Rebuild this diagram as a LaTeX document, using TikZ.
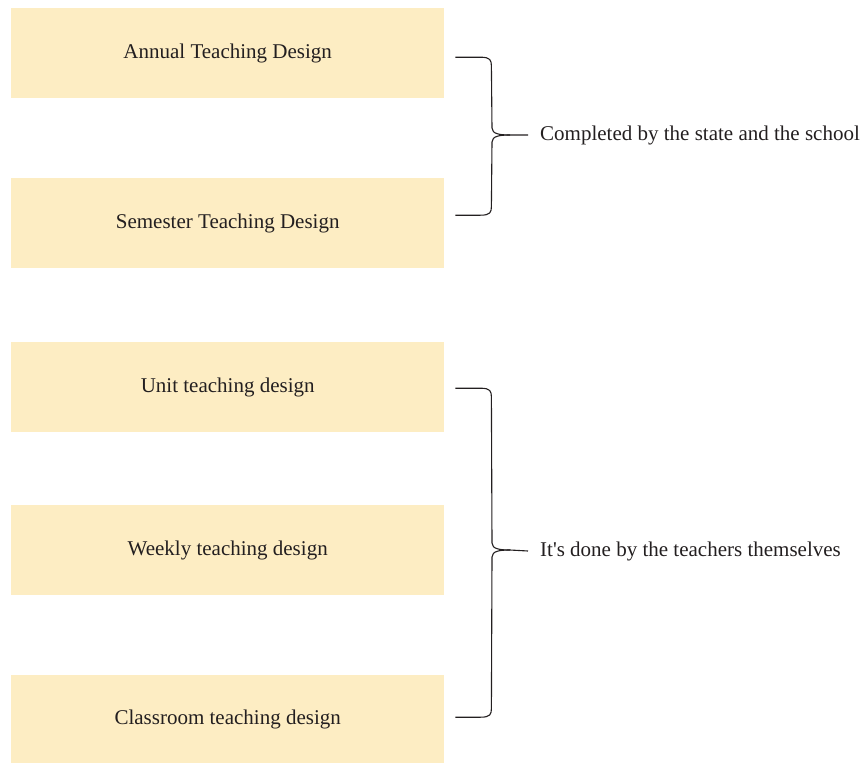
\documentclass[tikz,border=0pt]{standalone}
\usepackage{fontspec}
\setmainfont{Liberation Serif}
\definecolor{boxfill}{RGB}{253,237,195}
\definecolor{ink}{RGB}{35,31,32}
\begin{document}
\begin{tikzpicture}[x=1pt,y=-1pt,
  levelbox/.style={fill=boxfill,draw=none,minimum width=433pt,minimum height=90pt,
    anchor=north west,inner sep=0pt,text=ink,font=\fontsize{21}{24}\selectfont},
  bracelabel/.style={anchor=west,inner sep=0pt,text=ink,font=\fontsize{21}{24}\selectfont},
  bracket/.style={draw=ink,line width=1.1pt,line join=round}]
\useasboundingbox (0,0) rectangle (865,763);

% design levels
\node[levelbox] (annual)   at (11,8)   {Annual Teaching Design};
\node[levelbox] (semester) at (11,178) {Semester Teaching Design};
\node[levelbox] (unit)     at (11,342) {Unit teaching design};
\node[levelbox] (weekly)   at (11,505) {Weekly teaching design};
\node[levelbox,minimum height=88pt] (classroom) at (11,675) {Classroom teaching design};

% labels for the two groups
\node[bracelabel] (statelbl)   at (540,135) {Completed by the state and the school};
\node[bracelabel] (teacherlbl) at (540,551) {It\textquotesingle s done by the teachers themselves};

% curly brackets joining each group to its label
\coordinate (t1) at ([xshift=11pt,yshift=-4pt]annual.east);
\coordinate (b1) at ([xshift=11pt,yshift=8pt]semester.east);
\draw[bracket] (t1) -- ++(25,0) .. controls +(10,0) and +(0,-6) .. ++(11,9)
  -- (492,128) .. controls (492,134) and (500,135) .. (510,135)
  -- ([xshift=-12pt]statelbl.west);
\draw[bracket] (b1) -- ++(25,0) .. controls +(10,0) and +(0,6) .. ++(11,-9)
  -- (492,142) .. controls (492,136) and (500,135) .. (510,135);

\coordinate (t2) at ([xshift=11pt,yshift=-1pt]unit.east);
\coordinate (b2) at ([xshift=11pt,yshift=2pt]classroom.east);
\draw[bracket] (t2) -- ++(25,0) .. controls +(10,0) and +(0,-6) .. ++(11,9)
  -- (492,543) .. controls (492,549) and (500,550) .. (510,550)
  -- ([xshift=-12pt]teacherlbl.west);
\draw[bracket] (b2) -- ++(25,0) .. controls +(10,0) and +(0,6) .. ++(11,-9)
  -- (492,557) .. controls (492,551) and (500,550) .. (510,550);
\end{tikzpicture}
\end{document}
